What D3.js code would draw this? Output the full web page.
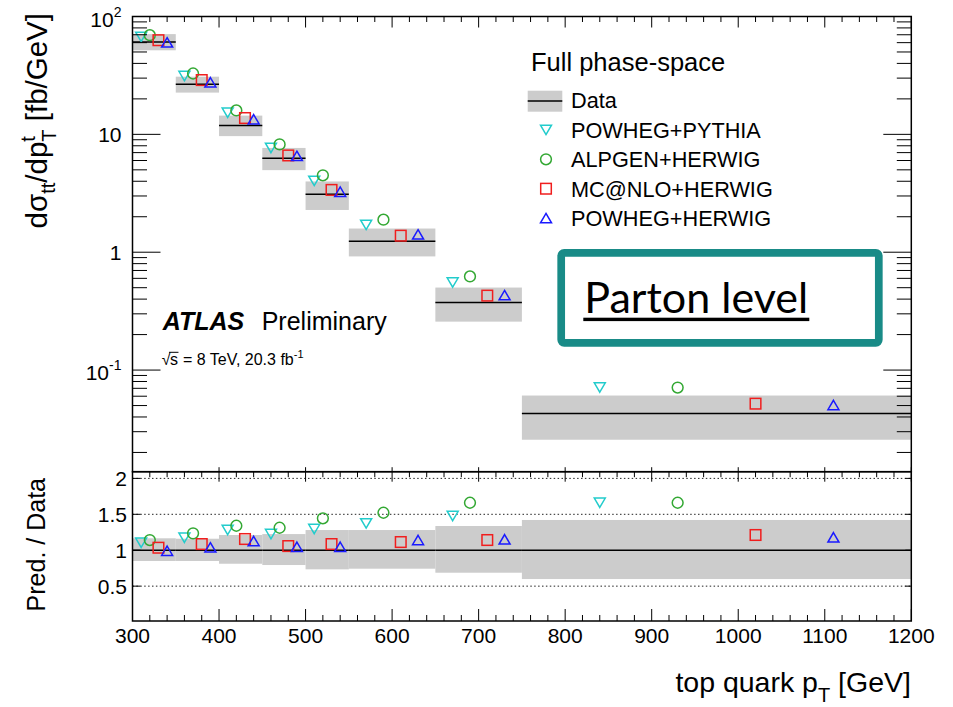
<!DOCTYPE html>
<html><head><meta charset="utf-8">
<script src="https://cdn.jsdelivr.net/npm/d3@7"></script>
<style>
body{margin:0;background:#fff}
svg{display:block}
text{font-family:"Liberation Sans",Arial,Helvetica,sans-serif;fill:#000;white-space:pre}
</style>
</head><body>
<svg id="chart" width="953" height="707"></svg>
<script>
// top-quark pT differential cross section, full phase-space, parton level
const binEdges = [300, 350, 400, 450, 500, 550, 650, 750, 1200];
const dataXsec = [60.8, 26.6, 11.9, 6.26, 3.11, 1.24, 0.375, 0.0428];      // fb/GeV
const dataRelUp = [0.166, 0.160, 0.212, 0.225, 0.281, 0.281, 0.337, 0.421];
const dataRelDown = [0.150, 0.150, 0.188, 0.206, 0.266, 0.257, 0.313, 0.401];

const generators = ["POWHEG+PYTHIA", "ALPGEN+HERWIG", "MC@NLO+HERWIG", "POWHEG+HERWIG"];
const ratioPowhegPythia = [1.104, 1.174, 1.281, 1.225, 1.295, 1.374, 1.476, 1.661];
const ratioAlpgenHerwig = [1.142, 1.235, 1.341, 1.313, 1.444, 1.522, 1.661, 1.661];
const ratioMcatnloHerwig = [1.035, 1.086, 1.156, 1.058, 1.086, 1.114, 1.142, 1.212];
const ratioPowhegHerwig = [0.993, 1.040, 1.128, 1.049, 1.049, 1.142, 1.152, 1.180];
const markerOffsets = [0.2, 0.4, 0.6, 0.8];   // position of each generator inside a bin

const xTickValues = [300, 400, 500, 600, 700, 800, 900, 1000, 1100, 1200];
const ratioTickValues = [0.5, 1, 1.5, 2];
const ratioTickLabels = ["0.5", "1", "1.5", "2"];
const logTickValues = [0.1, 1, 10, 100];
const logTickLabels = [["10", "-1"], ["1", ""], ["10", ""], ["10", "2"]];

const ratios = [ratioPowhegPythia, ratioAlpgenHerwig, ratioMcatnloHerwig, ratioPowhegHerwig];
const styles = [
  {color: "#22cccc", shape: "tdown"},
  {color: "#33a833", shape: "circle"},
  {color: "#f01e1e", shape: "square"},
  {color: "#1a1aff", shape: "tup"}
];

const svg = d3.select("#chart");
const L = 132.5, R = 911.3, T = 16.5, MID = 471.7, B = 621;

const x = d3.scaleLinear().domain([300, 1200]).range([L, R]);
const yTop = d3.scaleLog().domain([0.01373, 100]).range([MID, T]);
const yRat = d3.scaleLinear().domain([0.015, 2.093]).range([B, MID]);

const bins = d3.range(dataXsec.length).map(i => ({
  lo: binEdges[i], hi: binEdges[i + 1], v: dataXsec[i], up: dataRelUp[i], dn: dataRelDown[i]
}));

function marker(g, shape, cx, cy, color) {
  const s = 5.3;
  let el;
  if (shape === "circle") {
    el = g.append("circle").attr("cx", cx).attr("cy", cy).attr("r", 5.4);
  } else if (shape === "square") {
    el = g.append("rect").attr("x", cx - s).attr("y", cy - s).attr("width", 2 * s).attr("height", 2 * s);
  } else if (shape === "tup") {
    el = g.append("path").attr("d", `M${cx},${cy - 4.7}L${cx + 5.5},${cy + 4.7}L${cx - 5.5},${cy + 4.7}Z`);
  } else {
    el = g.append("path").attr("d", `M${cx},${cy + 4.7}L${cx + 5.5},${cy - 4.7}L${cx - 5.5},${cy - 4.7}Z`);
  }
  el.attr("fill", "none").attr("stroke", color).attr("stroke-width", 1.5);
}

// ---------- upper pad ----------
const upperPad = svg.append("g");
upperPad.selectAll("rect.band").data(bins).join("rect")
  .attr("x", d => x(d.lo)).attr("width", d => x(d.hi) - x(d.lo))
  .attr("y", d => yTop(d.v * (1 + d.up)))
  .attr("height", d => yTop(d.v * (1 - d.dn)) - yTop(d.v * (1 + d.up)))
  .attr("fill", "#cccccc");
upperPad.selectAll("line.data").data(bins).join("line")
  .attr("x1", d => x(d.lo)).attr("x2", d => x(d.hi))
  .attr("y1", d => yTop(d.v)).attr("y2", d => yTop(d.v))
  .attr("stroke", "#000").attr("stroke-width", 1.5);

ratios.forEach((r, k) => {
  bins.forEach((b, i) => {
    const px = b.lo + markerOffsets[k] * (b.hi - b.lo);
    marker(upperPad, styles[k].shape, x(px), yTop(b.v * r[i]), styles[k].color);
  });
});

// ---------- lower pad ----------
const lowerPad = svg.append("g");
lowerPad.selectAll("rect.band").data(bins).join("rect")
  .attr("x", d => x(d.lo)).attr("width", d => x(d.hi) - x(d.lo))
  .attr("y", d => yRat(1 + d.up))
  .attr("height", d => yRat(1 - d.dn) - yRat(1 + d.up))
  .attr("fill", "#cccccc");
[0.5, 1.5, 2].forEach(v => {
  lowerPad.append("line").attr("x1", L).attr("x2", R).attr("y1", yRat(v)).attr("y2", yRat(v))
    .attr("stroke", "#222").attr("stroke-width", 1).attr("stroke-dasharray", "1.5,2.4");
});
lowerPad.selectAll("line.data").data(bins).join("line")
  .attr("x1", d => x(d.lo)).attr("x2", d => x(d.hi))
  .attr("y1", yRat(1)).attr("y2", yRat(1))
  .attr("stroke", "#000").attr("stroke-width", 1.5);
ratios.forEach((r, k) => {
  bins.forEach((b, i) => {
    const px = b.lo + markerOffsets[k] * (b.hi - b.lo);
    marker(lowerPad, styles[k].shape, x(px), yRat(r[i]), styles[k].color);
  });
});

// ---------- axes and frames ----------
const ax = svg.append("g").attr("stroke", "#000").attr("stroke-width", 1);
function tick(x1, y1, x2, y2) { ax.append("line").attr("x1", x1).attr("y1", y1).attr("x2", x2).attr("y2", y2); }

const minorX = d3.range(300, 1201, 20);
minorX.forEach(v => {
  const major = v % 100 === 0;
  const px = x(v);
  tick(px, T, px, T + (major ? 11 : 5.5));          // upper pad top edge
  if (major) tick(px, MID - 4.5, px, MID);           // upper pad bottom edge
  tick(px, MID, px, MID + (major ? 10 : 5.5));       // lower pad top edge
  tick(px, B, px, B - (major ? 12 : 6));             // lower pad bottom edge
});

// log axis ticks, both sides
const logTicks = [];
[0.01, 0.1, 1, 10].forEach(dec => {
  for (let m = 1; m <= 9; m++) logTicks.push({v: dec * m, major: m === 1});
});
logTicks.push({v: 100, major: true});
logTicks.filter(t => t.v >= yTop.domain()[0] && t.v <= 100).forEach(t => {
  const py = yTop(t.v), len = t.major ? 28 : 14.5;
  tick(L, py, L + len, py);
  tick(R, py, R - len, py);
});
ratioTickValues.forEach(v => {
  tick(L, yRat(v), L + 8, yRat(v));
  tick(R, yRat(v), R - 6, yRat(v));
});

svg.append("rect").attr("x", L).attr("y", T).attr("width", R - L).attr("height", MID - T)
  .attr("fill", "none").attr("stroke", "#000").attr("stroke-width", 1.5);
svg.append("rect").attr("x", L).attr("y", MID).attr("width", R - L).attr("height", B - MID)
  .attr("fill", "none").attr("stroke", "#000").attr("stroke-width", 1.5);

// tick labels
const lbl = svg.append("g").attr("font-size", 21);
xTickValues.forEach(v => {
  lbl.append("text").attr("x", x(v)).attr("y", 643).attr("text-anchor", "middle").text(v);
});
ratioTickValues.forEach((v, i) => {
  lbl.append("text").attr("x", 127).attr("y", yRat(v) + 7.5).attr("text-anchor", "end").text(ratioTickLabels[i]);
});
logTickValues.forEach((v, i) => {
  const [base, exp] = logTickLabels[i];
  const t = lbl.append("text").attr("x", 121.5).attr("text-anchor", "end")
    .attr("y", yTop(v) + (exp ? 10.3 : 7.3));
  t.append("tspan").text(base);
  if (exp) t.append("tspan").attr("font-size", 14).attr("dy", -10).text(exp);
});

// axis titles
const yt = svg.append("text").attr("transform", "translate(47,13) rotate(-90)")
  .attr("text-anchor", "end").attr("font-size", 29.5);
yt.append("tspan").text("dσ");
yt.append("tspan").attr("font-size", 20).attr("dy", 8).text("tt");
yt.append("tspan").attr("dy", -8).text("/dp");
yt.append("tspan").attr("font-size", 20).attr("dy", -12).text("t");
yt.append("tspan").attr("font-size", 20).attr("dx", -5.5).attr("dy", 21).text("T");
yt.append("tspan").attr("dy", -9).text(" [fb/GeV]");

svg.append("text").attr("transform", "translate(45,478) rotate(-90)")
  .attr("text-anchor", "end").attr("font-size", 25).text("Pred. / Data");

const xt = svg.append("text").attr("x", 911).attr("y", 692).attr("text-anchor", "end").attr("font-size", 28.5);
xt.append("tspan").text("top quark p");
xt.append("tspan").attr("font-size", 20).attr("dy", 10).text("T");
xt.append("tspan").attr("dy", -10).text(" [GeV]");

// legend
const leg = svg.append("g");
leg.append("text").attr("x", 531).attr("y", 70.5).attr("font-size", 25.5).text("Full phase-space");
leg.append("rect").attr("x", 527.7).attr("y", 90.7).attr("width", 34.6).attr("height", 21).attr("fill", "#cccccc");
leg.append("line").attr("x1", 527.7).attr("x2", 562.3).attr("y1", 101).attr("y2", 101)
  .attr("stroke", "#000").attr("stroke-width", 1.5);
const legendNames = ["Data"].concat(generators);
legendNames.forEach((n, i) => {
  const by = 108.3 + 29.4 * i;
  leg.append("text").attr("x", 571).attr("y", by).attr("font-size", 21.7).text(n);
  if (i > 0) marker(leg, styles[i - 1].shape, 546, by - 7.8, styles[i - 1].color);
});

// experiment label
svg.append("text").attr("x", 162.7).attr("y", 330).attr("font-size", 25)
  .attr("font-weight", "bold").attr("font-style", "italic").text("ATLAS");
svg.append("text").attr("x", 261.7).attr("y", 330).attr("font-size", 25).text("Preliminary");

const rootTxt = svg.append("text").attr("x", 161.7).attr("y", 365).attr("font-size", 16).text("√");
const rw = rootTxt.node().getComputedTextLength();
const sTxt = svg.append("text").attr("x", 161.7 + rw - 0.5).attr("y", 365).attr("font-size", 16).text("s");
const sw = sTxt.node().getComputedTextLength();
svg.append("line").attr("x1", 161.7 + rw - 1.5).attr("x2", 161.7 + rw + sw)
  .attr("y1", 352.3).attr("y2", 352.3).attr("stroke", "#000").attr("stroke-width", 1);
const lumi = svg.append("text").attr("x", 161.7 + rw + sw + 4.5).attr("y", 365).attr("font-size", 16);
lumi.append("tspan").text("= 8 TeV, 20.3 fb");
lumi.append("tspan").attr("font-size", 11).attr("dy", -7).text("-1");

// parton-level tag
svg.append("rect").attr("x", 561.2).attr("y", 252.8).attr("width", 317.6).attr("height", 90)
  .attr("rx", 3).attr("fill", "#fff").attr("stroke", "#198b87").attr("stroke-width", 7.7);
const pt = svg.append("text").attr("x", 584.3).attr("y", 312.7)
  .style("font-family", "Lato, 'Open Sans', sans-serif").attr("font-size", 42).text("Parton level");
const pw = pt.node().getComputedTextLength();
pt.attr("font-size", 42 * 224 / pw);
svg.append("rect").attr("x", 583.3).attr("y", 317.7).attr("width", 226).attr("height", 3.4).attr("fill", "#000");
</script>
</body></html>
